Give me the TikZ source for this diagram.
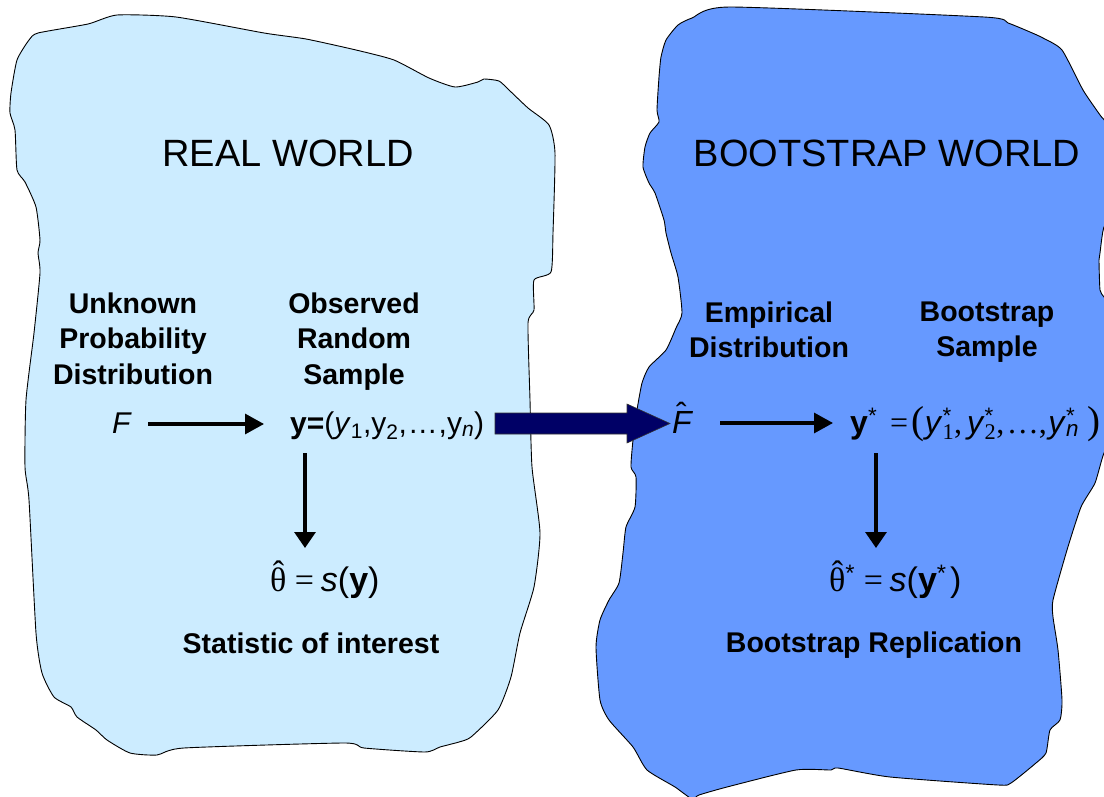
\documentclass[tikz,border=0pt]{standalone}
\usepackage{fontspec}
\setmainfont{Liberation Sans}
\newfontfamily\serif{Liberation Serif}
\usetikzlibrary{calc,arrows.meta}

% hat placed over a letter
\newcommand{\hatover}[3]{\makebox[0pt][l]{\kern#1\raisebox{#2}{#3}}}
% large upright parenthesis for the bootstrap sample
\newcommand{\bigparen}[1]{{\serif\fontsize{39}{40}\selectfont#1}}

\begin{document}
\begin{tikzpicture}[x=1pt,y=-1pt,
  blobline/.style={draw=black,line width=0.9pt,line join=round},
  world/.style={font=\fontsize{38}{44}\selectfont,inner sep=0pt},
  lbl/.style={font=\fontsize{28.5}{35.5}\selectfont\bfseries,align=center,inner sep=0pt},
  mathrow/.style={font=\fontsize{30}{34}\selectfont,inner sep=0pt},
  mathrowb/.style={font=\fontsize{32}{36}\selectfont,inner sep=0pt},
  formula/.style={font=\fontsize{34}{38}\selectfont,inner sep=0pt},
  arr/.style={line width=3.2pt,-{Triangle[length=19pt,width=20pt]}},
  darr/.style={line width=3.2pt,-{Triangle[length=16pt,width=21pt]}},
  bigarrow/.style={fill=navyarrow,draw=black!80,line width=0.6pt,line join=miter}
]
\definecolor{realfill}{HTML}{CCECFF}
\definecolor{bootfill}{HTML}{6699FF}
\definecolor{navyarrow}{HTML}{000066}

\useasboundingbox (0,0) rectangle (1104,797);
\begin{scope}
\clip (0,0) rectangle (1104,797);

% real world region
\draw[blobline,fill=realfill] plot[smooth cycle,tension=0.35] coordinates {
 (17,60) (29,40) (38,33) (88,24) (117,15) (176,17) (264,33) (306,39)
 (356,50) (394,60) (429,78) (455,87) (478,82) (484,79) (499,81) (509,90)
 (528,108) (549,125) (555,153) (553,233) (551,272) (534,280) (534,310)
 (528,323) (530,400) (532,467) (540,533) (534,587) (520,633) (511,677)
 (498,710) (471,737) (459,742) (440,747) (425,752) (364,748) (344,743)
 (184,748) (157,755) (130,753) (107,740) (96,730) (77,717) (71,707)
 (54,697) (42,673) (36,633) (29,500) (25,467) (26,400) (34,333) (40,273)
 (38,253) (40,240) (36,207) (25,182) (17,170) (15,130) (10,113) (11,93)};

% bootstrap world region
\draw[blobline,fill=bootfill] plot[smooth cycle,tension=0.35] coordinates {
 (730,7) (984,17) (1008,23) (1030,32) (1043,38) (1062,50) (1083,90)
 (1100,115) (1118,140) (1118,210) (1104,227) (1100,253) (1099,260)
 (1100,290) (1104,297) (1118,320) (1118,430) (1104,453) (1095,483)
 (1081,507) (1067,550) (1053,600) (1053,617) (1058,650) (1062,700)
 (1060,720) (1050,730) (1046,753) (1036,763) (1011,783) (998,785)
 (890,777) (838,768) (831,770) (796,770) (727,787) (699,795) (692,799)
 (675,787) (647,770) (633,747) (609,720) (600,700) (596,647) (600,620)
 (609,600) (619,583) (623,553) (626,527) (635,507) (636,477) (631,467)
 (633,440) (637,410) (642,383) (649,367) (666,350) (676,328) (682,313)
 (678,277) (671,253) (666,233) (664,220) (655,193) (649,183) (643,167)
 (645,147) (650,133) (659,122) (657,110) (659,77) (661,57) (666,40)
 (678,25) (692,18)};
\end{scope}

% headings
\node[world,anchor=base] (realw) at (288,167) {REAL WORLD};
\node[world,anchor=base] (bootw) at (887,167) {BOOTSTRAP WORLD};

% column labels
\node[lbl,anchor=north] (unk) at (133,292.6) {Unknown\\Probability\\Distribution};
\node[lbl,anchor=north] (obs) at (354,292.6) {Observed\\Random\\Sample};
\node[lbl,anchor=north] (emp) at (769,301.6) {Empirical\\Distribution};
\node[lbl,anchor=north] (bss) at (987,301.6) {Bootstrap\\Sample};

% real world quantities
\node[mathrow,anchor=base] (F) at (122,433) {\textit{F}};
\node[mathrow,anchor=base west] (ysamp) at (290,433)
  {{\bfseries y=}(\textit{y}\textsubscript{1},y\textsubscript{2},\kern0.03em…\kern0.03em,y\textsubscript{\textit{n}})};
\node[formula,anchor=base west] (thetaL) at (270,591)
  {\hatover{0.08em}{0.2em}{\serif ˆ}{\serif θ}\kern0.25em{\serif =}\kern0.2em\textit{s}(\textbf{y})};
\node[lbl,anchor=base] (statL) at (311,653) {Statistic of interest};

% bootstrap world quantities
\node[mathrowb,anchor=base west] (Fhat) at (672,433)
  {\hatover{0.12em}{0.24em}{ˆ}\textit{F}};
\node[mathrowb,anchor=base west] (ystar) at (850,433)
  {\textbf{y}\textsuperscript{*}\kern0.4em{\serif =}\kern0.12em\bigparen{(}%
   \textit{y}\rlap{\textsuperscript{*}}\textsubscript{\serif 1}{\serif ,}\kern0.15em%
   \textit{y}\rlap{\textsuperscript{*}}\textsubscript{\serif 2}{\serif ,}\kern0.08em{\serif …}{\serif ,}\kern0.05em%
   \textit{y}\rlap{\textsuperscript{*}}\textsubscript{\textit{n}}\kern0.25em\bigparen{)}};
\node[formula,anchor=base west] (thetaR) at (829,591)
  {\hatover{0.08em}{0.2em}{\serif ˆ}{\serif θ}\textsuperscript{*}\kern0.25em{\serif =}\kern0.2em\textit{s}(\textbf{y}\textsuperscript{*}\kern0.1em)};
\node[lbl,anchor=base] (repR) at (874,652) {Bootstrap Replication};

% arrows inside each world
\draw[arr] ([shift={(26,-9)}]F.base) -- ([shift={(-26,-9)}]ysamp.base west);
\draw[darr] ([shift={(15,20)}]ysamp.base west) -- ([shift={(35,-43)}]thetaL.base west);
\draw[arr] ([shift={(48,-10)}]Fhat.base west) -- ([shift={(-17,-10)}]ystar.base west);
\draw[darr] ([shift={(26,20)}]ystar.base west) -- ([shift={(47,-43)}]thetaR.base west);

% block arrow from the real world sample to the empirical distribution
\coordinate (tailB) at (495,423.5);
\coordinate (tipB) at ([shift={(-2,-9.5)}]Fhat.base west);
\draw[bigarrow] ($(tailB)+(0,-10.5)$) -- ($(tipB)+(-43,-10.5)$) -- ($(tipB)+(-43,-19.5)$)
  -- (tipB) -- ($(tipB)+(-43,19.5)$) -- ($(tipB)+(-43,10.5)$) -- ($(tailB)+(0,10.5)$) -- cycle;
\end{tikzpicture}
\end{document}
